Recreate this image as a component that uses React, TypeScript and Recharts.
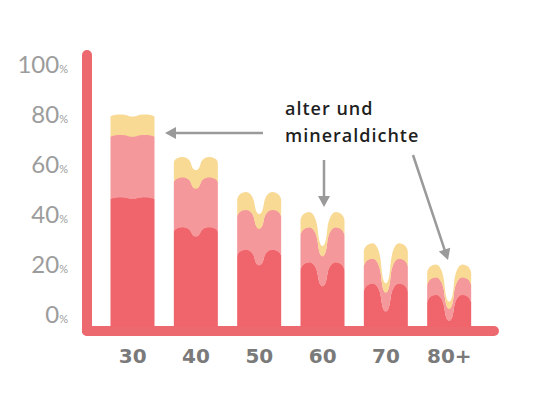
import React from 'react';
import { BarChart, Bar, XAxis, YAxis, Customized } from 'recharts';

const AGES = ['30', '40', '50', '60', '70', '80+'];
// Dichte in Prozent, pro Schicht (unten -> oben)
const DENSE = [48, 36, 27, 22, 13.5, 9];
const MIDDLE = [25, 20, 16, 14, 10, 7];
const TOP = [8, 8, 7, 6, 6, 5];
const Y_TICKS = [0, 20, 40, 60, 80, 100];

// look only: how deep the bone-like dip is in each bar (px), and per layer
const NOTCH = [2, 13, 22, 34, 40, 37];
const LAYER_FACTOR = [0.7, 0.85, 1];

const COLORS = ['#f0656c', '#f4989b', '#f8da95'];
const AXIS_RED = '#ec6a6f';
const ARROW = '#9a9a9a';

const data = AGES.map((age, i) => ({
  age,
  dense: DENSE[i],
  middle: MIDDLE[i],
  top: TOP[i],
}));

type Pt = [number, number];
type Seg = [Pt, Pt, Pt, Pt];

// the wavy top edge as cubic segments, left to right: two rounded lobes with a U-shaped dip
const waveSegs = (x: number, w: number, y: number, d: number): Seg[] => {
  const p = w * 0.2;
  const k = Math.min(w * 0.2, 2 + d * 0.3);
  const wx = w * 0.39;
  const mid = w * 0.5;
  const left: Seg[] = [
    [[x, y + k], [x, y + k * 0.45], [x + p * 0.45, y], [x + p, y]],
    [[x + p, y], [x + p + w * 0.1, y], [x + w * 0.37, y + d * 0.25], [x + wx, y + d * 0.5]],
    [[x + wx, y + d * 0.5], [x + w * 0.414, y + d * 0.8], [x + mid - w * 0.06, y + d], [x + mid, y + d]],
  ];
  const mirror = (pt: Pt): Pt => [2 * x + w - pt[0], pt[1]];
  const right: Seg[] = left
    .slice()
    .reverse()
    .map((s) => [mirror(s[3]), mirror(s[2]), mirror(s[1]), mirror(s[0])] as Seg);
  return [...left, ...right];
};

const segPath = (segs: Seg[]) =>
  segs.map((s) => `C ${s[1][0]} ${s[1][1]} ${s[2][0]} ${s[2][1]} ${s[3][0]} ${s[3][1]}`).join(' ');

const reverseSegs = (segs: Seg[]): Seg[] =>
  segs
    .slice()
    .reverse()
    .map((s) => [s[3], s[2], s[1], s[0]] as Seg);

const makeShape = (layer: number) => (p: any) => {
  const i = AGES.indexOf(p.payload?.age);
  if (i < 0 || !p.height) return <g />;
  const { x, y, width: w, height: h } = p;
  const top = waveSegs(x, w, y, NOTCH[i] * LAYER_FACTOR[layer]);
  let d = `M ${top[0][0][0]} ${top[0][0][1]} ${segPath(top)} `;
  if (layer === 0) {
    const base = p.background ? p.background.y + p.background.height : y + h + 10;
    d += `L ${x + w} ${base} L ${x} ${base} Z`;
  } else {
    const under = reverseSegs(waveSegs(x, w, y + h + 0.6, NOTCH[i] * LAYER_FACTOR[layer - 1]));
    d += `L ${under[0][0][0]} ${under[0][0][1]} ${segPath(under)} Z`;
  }
  return <path d={d} fill={COLORS[layer]} />;
};

const PercentTick = (p: any) => (
  <text x={p.x} y={p.y} dy="0.36em" textAnchor="end" fill="#9c9c9c" fontFamily="Lato" fontWeight={400}>
    <tspan fontSize={24}>{p.payload.value}</tspan>
    <tspan fontSize={11}>%</tspan>
  </text>
);

const arrowHead = (x1: number, y1: number, x2: number, y2: number) => {
  const a = Math.atan2(y2 - y1, x2 - x1);
  const len = 11;
  const half = 6;
  const bx = x2 - len * Math.cos(a);
  const by = y2 - len * Math.sin(a);
  const px = -Math.sin(a) * half;
  const py = Math.cos(a) * half;
  return `${x2},${y2} ${bx + px},${by + py} ${bx - px},${by - py}`;
};

const ARROWS = [
  [263, 133, 165, 133],
  [324, 160, 324, 207],
  [413, 155, 448, 260],
];

const Decorations = () => (
  <g>
    <line x1={87} y1={55} x2={87} y2={331} stroke={AXIS_RED} strokeWidth={10} strokeLinecap="round" />
    <line x1={87} y1={331} x2={494} y2={331} stroke={AXIS_RED} strokeWidth={10} strokeLinecap="round" />
    {ARROWS.map(([x1, y1, x2, y2], i) => {
      const a = Math.atan2(y2 - y1, x2 - x1);
      return (
        <g key={i}>
          <line x1={x1} y1={y1} x2={x2 - 8 * Math.cos(a)} y2={y2 - 8 * Math.sin(a)} stroke={ARROW} strokeWidth={2.5} />
          <polygon points={arrowHead(x1, y1, x2, y2)} fill={ARROW} />
        </g>
      );
    })}
    <text x={285} y={115} fontFamily="Open Sans" fontWeight={600} fontSize={18} letterSpacing={1} fill="#1f1f1f">
      alter und
    </text>
    <text x={285} y={142} fontFamily="Open Sans" fontWeight={600} fontSize={18} letterSpacing={1} fill="#1f1f1f">
      mineraldichte
    </text>
  </g>
);

export default function App() {
  return (
    <div style={{ position: 'absolute', left: 0, top: 0, width: 560, height: 410, background: '#fff' }}>
      <BarChart
        width={560}
        height={410}
        data={data}
        margin={{ top: 67, right: 79, bottom: 53, left: 0 }}
        barCategoryGap="15%"
      >
        <Customized component={<Decorations />} />
        <XAxis
          dataKey="age"
          height={30}
          axisLine={false}
          tickLine={false}
          tickSize={0}
          tickMargin={22}
          tick={{ fill: '#7a7a7a', fontSize: 20, fontWeight: 700, fontFamily: 'DejaVu Sans' }}
        />
        <YAxis
          width={101}
          domain={[-4, 100]}
          ticks={Y_TICKS}
          axisLine={false}
          tickLine={false}
          tickSize={0}
          tickMargin={33}
          tick={<PercentTick />}
        />
        <Bar dataKey="dense" stackId="a" fill={COLORS[0]} shape={makeShape(0)} isAnimationActive={false} />
        <Bar dataKey="middle" stackId="a" fill={COLORS[1]} shape={makeShape(1)} isAnimationActive={false} />
        <Bar dataKey="top" stackId="a" fill={COLORS[2]} shape={makeShape(2)} isAnimationActive={false} />
      </BarChart>
    </div>
  );
}
